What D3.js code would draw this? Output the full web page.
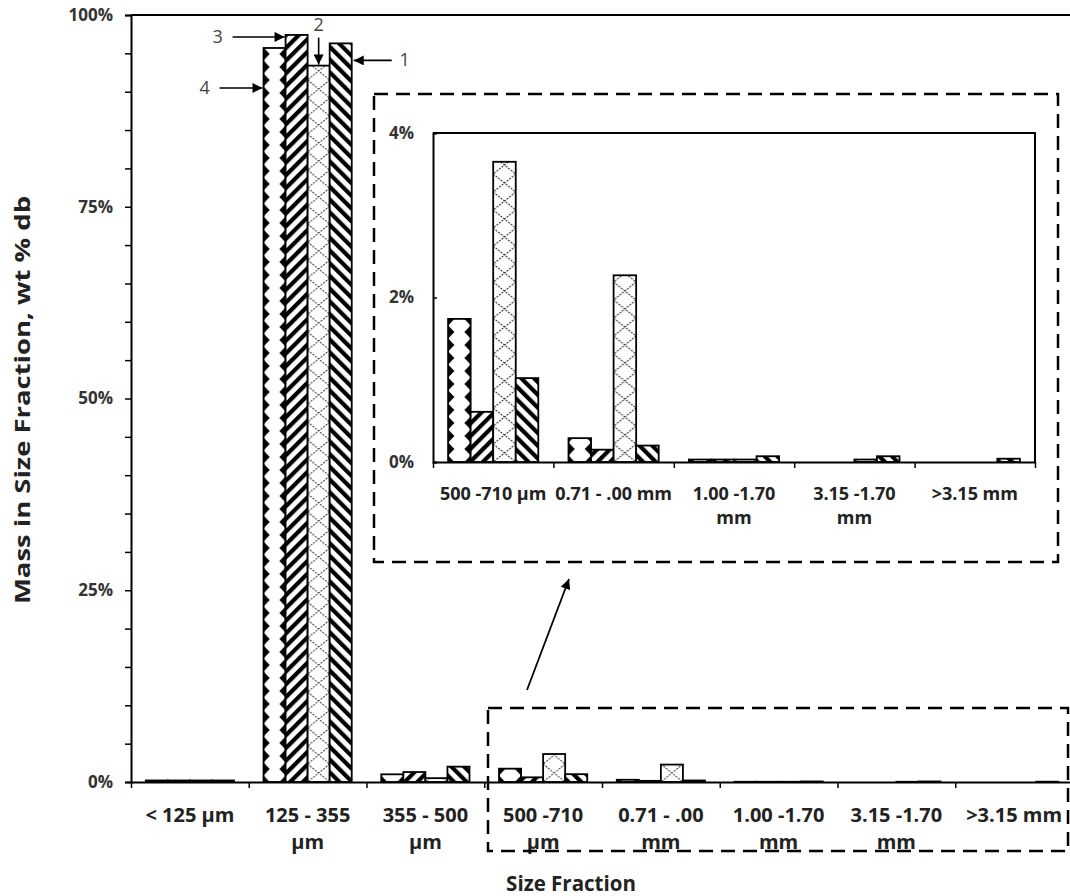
<!DOCTYPE html>
<html><head><meta charset="utf-8">
<script src="https://cdn.jsdelivr.net/npm/d3@7"></script>
<style>body{margin:0;background:#fff} svg{display:block}</style>
</head><body>
<svg id="chart" width="1070" height="896"></svg>
<script>
// ---------- DATA ----------
const categories = ["< 125 µm","125 - 355 µm","355 - 500 µm","500 -710 µm","0.71 - .00 mm","1.00 -1.70 mm","3.15 -1.70 mm",">3.15 mm"];
const mainLabels = [["< 125 µm"],["125 - 355","µm"],["355 - 500","µm"],["500 -710","µm"],["0.71 - .00","mm"],["1.00 -1.70","mm"],["3.15 -1.70","mm"],[">3.15 mm"]];
const insetCategories = categories.slice(3);
const insetLabels = [["500 -710 µm"],["0.71 - .00 mm"],["1.00 -1.70","mm"],["3.15 -1.70","mm"],[">3.15 mm"]];
const seriesNames = ["4","3","2","1"];           // left-to-right order within a group
const series4 = [0.2, 95.7, 1.0, 1.74, 0.29, 0.03, 0, 0];    // diamonds
const series3 = [0.2, 97.4, 1.3, 0.61, 0.15, 0.03, 0, 0];    // "/" stripes
const series2 = [0.2, 93.4, 0.5, 3.65, 2.27, 0.03, 0.03, 0]; // cross hatch
const series1 = [0.2, 96.3, 2.0, 1.02, 0.20, 0.07, 0.07, 0.04]; // "\" stripes
const seriesValues = {"4": series4, "3": series3, "2": series2, "1": series1};
const mainTickValues = [0,5,10,15,20,25,30,35,40,45,50,55,60,65,70,75,80,85,90,95,100];
const mainTickLabels = [0,25,50,75,100];
const insetTickValues = [0,2,4];
const annotatedCategory = "125 - 355 µm";

// ---------- SETUP ----------
const svg = d3.select("#chart");
const defs = svg.append("defs");
const labelFont = "'Open Sans', 'Noto Sans', sans-serif";
const tickFont = "'Open Sans', 'Noto Sans', sans-serif";

function stripe(id, angle){
  const p = defs.append("pattern").attr("id", id).attr("patternUnits","userSpaceOnUse")
    .attr("width", 9).attr("height", 9).attr("patternTransform", `rotate(${angle})`);
  p.append("rect").attr("width",9).attr("height",9).attr("fill","#fff");
  p.append("rect").attr("width",4.2).attr("height",9).attr("fill","#000");
}
stripe("fwd", 45);   // "/"
stripe("back", -45); // "\"

let pid = 0;
function fillFor(s, x, base, w){
  if (s === "3") return "url(#fwd)";
  if (s === "1") return "url(#back)";
  const id = "p" + (pid++);
  if (s === "4"){
    const H = 13, d = w*0.28;
    const p = defs.append("pattern").attr("id", id).attr("patternUnits","userSpaceOnUse")
      .attr("x", x).attr("y", base).attr("width", w).attr("height", H);
    p.append("rect").attr("width", w).attr("height", H).attr("fill", "#000");
    p.append("polygon").attr("fill","#fff")
      .attr("points", [[d,0],[w-d,0],[w,H/2],[w-d,H],[d,H],[0,H/2]].map(q=>q.join(",")).join(" "));
  } else {
    const H = 18;
    const p = defs.append("pattern").attr("id", id).attr("patternUnits","userSpaceOnUse")
      .attr("x", x).attr("y", base).attr("width", w).attr("height", H);
    p.append("rect").attr("width", w).attr("height", H).attr("fill", "#fff");
    p.append("path").attr("d", `M0,0L${w},${H}M${w},0L0,${H}`)
      .attr("stroke","#444").attr("stroke-width",1.1).attr("stroke-dasharray","2,1.2").attr("fill","none");
  }
  return `url(#${id})`;
}

defs.append("marker").attr("id","arrow").attr("viewBox","0 0 10 10")
  .attr("refX",10).attr("refY",5).attr("markerWidth",11).attr("markerHeight",10)
  .attr("markerUnits","userSpaceOnUse").attr("orient","auto")
  .append("path").attr("d","M0,0L10,5L0,10z").attr("fill","#000");

function drawBars(g, x, xs, y, cats, offset){
  cats.forEach((c, ci) => {
    seriesNames.forEach(s => {
      const v = seriesValues[s][ci + offset];
      if (!(v > 0)) return;
      const bx = x(c) + xs(s), w = xs.bandwidth(), base = y(0);
      g.append("rect").attr("x", bx).attr("y", y(v)).attr("width", w).attr("height", base - y(v))
        .attr("fill", fillFor(s, bx, base, w)).attr("stroke","#000").attr("stroke-width",1.8);
    });
  });
}

function styleTicks(ax, size){
  ax.attr("font-family", tickFont).attr("font-size", size).attr("font-weight","bold");
  ax.selectAll(".tick text").style("font-family", tickFont).style("font-size", size + "px")
    .style("font-weight","bold").attr("fill","#333");
  ax.select(".domain").attr("stroke-width",2);
  ax.selectAll(".tick line").attr("stroke-width",1.5);
}

// ---------- MAIN CHART ----------
const x = d3.scaleBand().domain(categories).range([131, 1073]).padding(0);
const xs = d3.scaleBand().domain(seriesNames).range([0, x.bandwidth()]).paddingInner(0).paddingOuter(0.67);
const y = d3.scaleLinear().domain([0,100]).range([782, 15]);
const main = svg.append("g");

drawBars(main, x, xs, y, categories, 0);

main.append("line").attr("x1", 131).attr("x2", 1073).attr("y1", y(100)).attr("y2", y(100))
  .attr("stroke","#000").attr("stroke-width",2);

const yAx = main.append("g").attr("transform","translate(131,0)")
  .call(d3.axisLeft(y).tickValues(mainTickValues).tickSize(6).tickPadding(12)
    .tickFormat(d => mainTickLabels.includes(d) ? d + "%" : ""));
styleTicks(yAx, 17);

const xIdx = d3.scaleLinear().domain([0, categories.length]).range(x.range());
const xAx = main.append("g").attr("transform",`translate(0,${y(0)})`)
  .call(d3.axisBottom(xIdx).tickValues(d3.range(0, categories.length+1)).tickSize(6).tickSizeOuter(0).tickFormat(""));
styleTicks(xAx, 14);

categories.forEach((c, i) => {
  const t = main.append("text").attr("x", x(c) + x.bandwidth()/2).attr("y", 822)
    .attr("text-anchor","middle").attr("font-family", labelFont).attr("font-weight","bold")
    .attr("font-size",20).attr("fill","#222");
  mainLabels[i].forEach((ln, k) => t.append("tspan").attr("x", x(c) + x.bandwidth()/2).attr("dy", k ? 27 : 0).text(ln));
});

main.append("text").attr("x", 571).attr("y", 891).attr("text-anchor","middle")
  .attr("font-family", labelFont).attr("font-weight","bold").attr("font-size",20.5).attr("fill","#222")
  .text("Size Fraction");
main.append("text").attr("transform","translate(30,400) rotate(-90)").attr("text-anchor","middle")
  .attr("font-family", labelFont).attr("font-weight","bold").attr("font-size",22).attr("fill","#222")
  .attr("textLength", 408).attr("lengthAdjust","spacingAndGlyphs")
  .text("Mass in Size Fraction, wt % db");

// annotations with arrows
const ac = annotatedCategory, ai = categories.indexOf(ac), w0 = xs.bandwidth();
const annots = [
  {s:"3", tip:[x(ac)+xs("3")-1, y(series3[ai])+2], dx:-52, dy:0},
  {s:"4", tip:[x(ac)+xs("4")-1, y(series4[ai])+40], dx:-43, dy:0},
  {s:"1", tip:[x(ac)+xs("1")+w0+2, y(series1[ai])+17], dx:38, dy:0},
  {s:"2", tip:[x(ac)+xs("2")+w0/2, y(series2[ai])-1], dx:0, dy:-27}
];
annots.forEach(a => {
  const tail = [a.tip[0]+a.dx, a.tip[1]+a.dy];
  main.append("line").attr("x1", tail[0]).attr("y1", tail[1]).attr("x2", a.tip[0]).attr("y2", a.tip[1])
    .attr("stroke","#000").attr("stroke-width",1.6).attr("marker-end","url(#arrow)");
  let lx = tail[0], ly = tail[1] + 6;
  if (a.dx < 0) lx = tail[0] - 15;
  if (a.dx > 0) lx = tail[0] + 13;
  if (a.dy < 0) ly = tail[1] - 7;
  main.append("text").attr("x", lx).attr("y", ly).attr("text-anchor","middle")
    .attr("font-family", labelFont).attr("font-size",18).attr("fill","#444").text(a.s);
});

svg.append("rect").attr("x",374).attr("y",94).attr("width",684).attr("height",468)
  .attr("fill","none").attr("stroke","#000").attr("stroke-width",2.5).attr("stroke-dasharray","14,8");
svg.append("rect").attr("x",488).attr("y",708).attr("width",580).attr("height",143)
  .attr("fill","none").attr("stroke","#000").attr("stroke-width",2.5).attr("stroke-dasharray","14,8");
svg.append("line").attr("x1",527).attr("y1",690).attr("x2",569).attr("y2",579)
  .attr("stroke","#000").attr("stroke-width",1.8).attr("marker-end","url(#arrow)");

// ---------- INSET ----------
const xi = d3.scaleBand().domain(insetCategories).range([433, 1035]).padding(0);
const xsi = d3.scaleBand().domain(seriesNames).range([0, xi.bandwidth()]).paddingInner(0).paddingOuter(0.67);
const yi = d3.scaleLinear().domain([0,4]).range([462, 133]);
const inset = svg.append("g");
drawBars(inset, xi, xsi, yi, insetCategories, 3);

inset.append("path").attr("d", `M433,${yi(4)}H1035V${yi(0)}`).attr("fill","none")
  .attr("stroke","#000").attr("stroke-width",2);
const yiAx = inset.append("g").attr("transform","translate(433,0)")
  .call(d3.axisLeft(yi).tickValues(insetTickValues).tickSize(-4).tickPadding(19).tickFormat(d => d + "%"));
styleTicks(yiAx, 17);

const xiIdx = d3.scaleLinear().domain([0, insetCategories.length]).range(xi.range());
const xiAx = inset.append("g").attr("transform",`translate(0,${yi(0)})`)
  .call(d3.axisBottom(xiIdx).tickValues(d3.range(0, insetCategories.length+1)).tickSize(6).tickSizeOuter(0).tickFormat(""));
styleTicks(xiAx, 14);

insetCategories.forEach((c, i) => {
  const cx = xi(c) + xi.bandwidth()/2;
  const t = inset.append("text").attr("x", cx).attr("y", 500)
    .attr("text-anchor","middle").attr("font-family", labelFont).attr("font-weight","bold")
    .attr("font-size",18).attr("fill","#222");
  insetLabels[i].forEach((ln, k) => t.append("tspan").attr("x", cx).attr("dy", k ? 24 : 0).text(ln));
});
</script>
</body></html>
